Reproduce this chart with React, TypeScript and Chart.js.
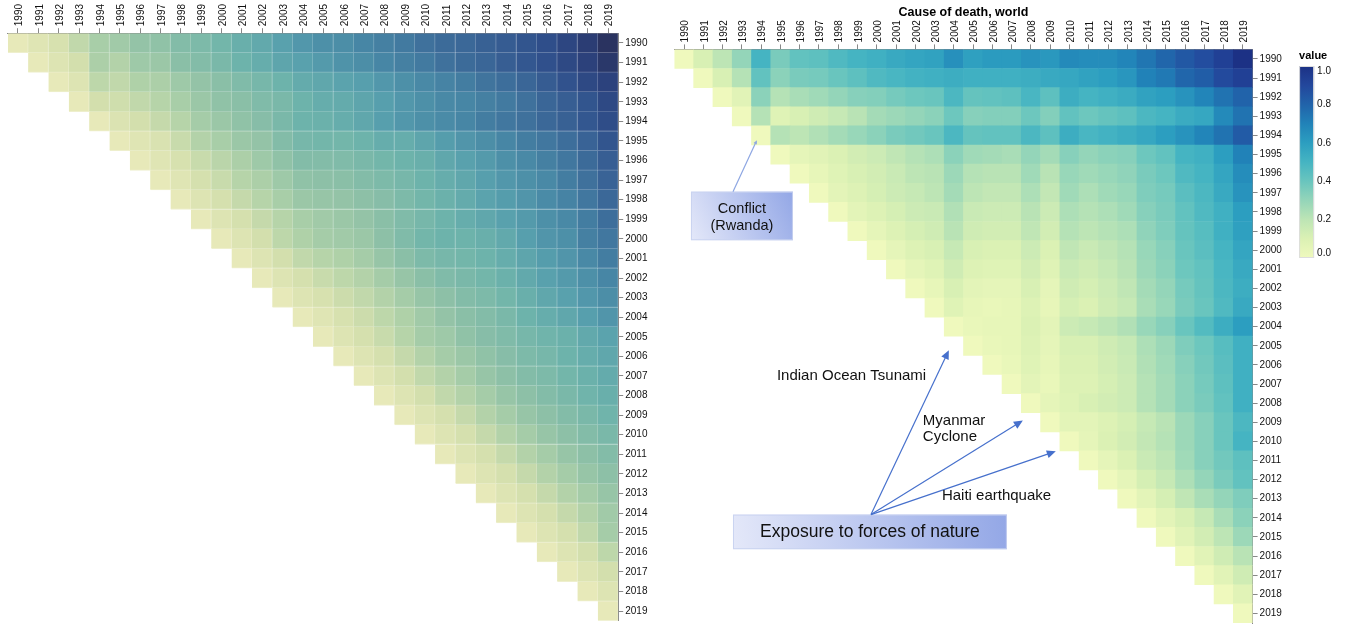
import React, { useEffect, useRef } from 'react';
import { Chart, registerables } from 'chart.js';

Chart.register(...registerables);

const FONT = '"Liberation Sans", Arial, Helvetica, sans-serif';

// ---------- categories / tick labels ----------
const YEARS = [
  '1990', '1991', '1992', '1993', '1994', '1995', '1996', '1997', '1998', '1999',
  '2000', '2001', '2002', '2003', '2004', '2005', '2006', '2007', '2008', '2009',
  '2010', '2011', '2012', '2013', '2014', '2015', '2016', '2017', '2018', '2019',
];

const RIGHT_TITLE = 'Cause of death, world';
const LEGEND_TITLE = 'value';
const LEGEND_TICKS = [0, 0.2, 0.4, 0.6, 0.8, 1.0];

// ---------- left heatmap: each row starts at its own year (diagonal) and runs to 2019 ----------
const left1990 = [0, .04, .08, .15, .22, .24, .28, .29, .33, .35, .38, .42, .45, .49, .53, .56, .57, .60, .62, .64, .67, .69, .70, .73, .75, .78, .81, .86, .92, 1.0];
const left1991 = [0, .05, .10, .21, .19, .25, .26, .31, .33, .36, .40, .43, .47, .49, .52, .55, .57, .60, .62, .64, .67, .69, .71, .74, .77, .80, .84, .89, .96];
const left1992 = [0, .05, .16, .15, .20, .21, .25, .28, .31, .34, .37, .40, .44, .46, .48, .50, .53, .56, .59, .61, .63, .66, .68, .71, .75, .79, .84, .88];
const left1993 = [0, .10, .11, .15, .18, .22, .26, .29, .31, .34, .36, .40, .43, .44, .47, .50, .53, .56, .59, .60, .62, .64, .67, .71, .74, .78, .84];
const left1994 = [0, .06, .10, .14, .18, .23, .26, .29, .32, .36, .40, .41, .43, .46, .50, .53, .56, .58, .60, .63, .65, .67, .70, .73, .77, .82];
const left1995 = [0, .04, .07, .13, .19, .22, .26, .28, .33, .37, .38, .38, .40, .43, .43, .47, .51, .54, .57, .60, .63, .65, .68, .72, .78];
const left1996 = [0, .04, .08, .13, .17, .21, .25, .29, .33, .33, .34, .36, .38, .40, .42, .46, .49, .52, .56, .59, .62, .65, .69, .74];
const left1997 = [0, .04, .09, .13, .18, .21, .25, .29, .30, .31, .33, .35, .37, .40, .43, .46, .50, .53, .56, .59, .63, .67, .72];
const left1998 = [0, .05, .09, .14, .18, .22, .26, .27, .28, .30, .32, .35, .38, .41, .44, .48, .51, .54, .58, .61, .65, .70];
const left1999 = [0, .05, .09, .14, .18, .22, .24, .26, .28, .31, .34, .37, .40, .43, .46, .49, .52, .56, .59, .63, .68];
const left2000 = [0, .05, .10, .16, .20, .23, .24, .26, .30, .34, .38, .40, .40, .42, .45, .50, .54, .56, .62, .65];
const left2001 = [0, .05, .10, .15, .18, .20, .23, .27, .31, .35, .37, .38, .40, .43, .47, .51, .54, .59, .63];
const left2002 = [0, .05, .09, .13, .16, .19, .23, .27, .31, .34, .36, .38, .41, .45, .49, .52, .56, .60];
const left2003 = [0, .05, .08, .12, .15, .19, .23, .27, .30, .33, .35, .38, .42, .46, .49, .53, .57];
const left2004 = [0, .04, .08, .12, .16, .20, .24, .28, .31, .33, .36, .40, .43, .46, .50, .54];
const left2005 = [0, .05, .09, .13, .18, .23, .25, .29, .32, .34, .37, .39, .41, .45, .48];
const left2006 = [0, .05, .09, .14, .19, .23, .26, .29, .32, .35, .37, .40, .43, .46];
const left2007 = [0, .05, .10, .15, .19, .23, .27, .30, .33, .35, .38, .41, .44];
const left2008 = [0, .05, .10, .15, .19, .23, .27, .30, .33, .36, .39, .42];
const left2009 = [0, .05, .09, .14, .19, .23, .27, .30, .33, .36, .39];
const left2010 = [0, .05, .09, .14, .19, .23, .27, .30, .33, .36];
const left2011 = [0, .05, .09, .14, .19, .23, .27, .30, .33];
const left2012 = [0, .05, .09, .14, .19, .23, .27, .30];
const left2013 = [0, .05, .09, .14, .19, .23, .27];
const left2014 = [0, .05, .09, .14, .19, .24];
const left2015 = [0, .05, .09, .15, .23];
const left2016 = [0, .05, .10, .16];
const left2017 = [0, .05, .10];
const left2018 = [0, .05];
const left2019 = [0];

const LEFT_ROWS = [
  left1990, left1991, left1992, left1993, left1994, left1995, left1996, left1997, left1998, left1999,
  left2000, left2001, left2002, left2003, left2004, left2005, left2006, left2007, left2008, left2009,
  left2010, left2011, left2012, left2013, left2014, left2015, left2016, left2017, left2018, left2019,
];

// ---------- right heatmap: "Cause of death, world" ----------
const right1990 = [0, .11, .20, .30, .50, .36, .42, .43, .47, .50, .52, .55, .57, .58, .65, .59, .61, .61, .64, .62, .67, .66, .66, .69, .74, .79, .84, .88, .93, 1.0];
const right1991 = [0, .11, .22, .42, .32, .36, .37, .40, .43, .47, .49, .51, .52, .53, .52, .52, .52, .53, .55, .56, .58, .60, .63, .70, .73, .79, .82, .89, .93];
const right1992 = [0, .07, .32, .22, .25, .27, .30, .33, .34, .37, .39, .40, .48, .41, .42, .43, .49, .43, .53, .50, .52, .54, .58, .60, .64, .69, .75, .80];
const right1993 = [0, .22, .08, .11, .14, .17, .21, .26, .28, .30, .32, .39, .33, .34, .34, .39, .34, .42, .39, .41, .43, .48, .50, .54, .56, .67, .75];
const right1994 = [0, .22, .20, .23, .26, .29, .32, .36, .38, .40, .48, .41, .42, .42, .48, .43, .53, .49, .51, .53, .56, .60, .64, .69, .75, .83];
const right1995 = [0, .05, .07, .10, .13, .15, .19, .22, .24, .32, .27, .26, .25, .30, .26, .33, .30, .32, .33, .39, .42, .50, .52, .60, .70];
const right1996 = [0, .04, .08, .11, .13, .16, .20, .21, .28, .22, .21, .21, .27, .21, .29, .27, .29, .31, .36, .39, .47, .50, .57, .66];
const right1997 = [0, .06, .09, .12, .15, .17, .20, .26, .20, .18, .18, .24, .18, .27, .24, .27, .29, .35, .37, .44, .48, .55, .64];
const right1998 = [0, .06, .09, .12, .15, .16, .23, .16, .15, .15, .21, .15, .24, .22, .24, .27, .33, .36, .42, .47, .52, .60];
const right1999 = [0, .05, .09, .12, .14, .21, .14, .13, .13, .19, .13, .22, .20, .22, .24, .31, .35, .41, .45, .52, .59];
const right2000 = [0, .05, .09, .11, .17, .11, .10, .10, .15, .10, .19, .16, .19, .22, .29, .33, .40, .44, .50, .57];
const right2001 = [0, .05, .08, .14, .09, .08, .08, .13, .08, .16, .14, .17, .21, .28, .32, .39, .42, .49, .55];
const right2002 = [0, .04, .11, .06, .05, .05, .11, .05, .14, .12, .15, .19, .26, .30, .37, .41, .48, .53];
const right2003 = [0, .08, .04, .03, .04, .09, .04, .12, .10, .14, .17, .25, .29, .36, .40, .47, .55];
const right2004 = [0, .03, .04, .04, .10, .06, .15, .17, .20, .23, .29, .33, .40, .46, .53, .60];
const right2005 = [0, .03, .04, .09, .05, .11, .11, .14, .17, .24, .28, .35, .39, .45, .52];
const right2006 = [0, .03, .08, .04, .10, .10, .13, .16, .23, .27, .33, .38, .44, .52];
const right2007 = [0, .06, .03, .09, .09, .12, .15, .22, .26, .32, .37, .43, .52];
const right2008 = [0, .05, .08, .11, .13, .15, .22, .26, .32, .36, .42, .52];
const right2009 = [0, .06, .06, .09, .12, .17, .21, .28, .33, .40, .48];
const right2010 = [0, .05, .10, .13, .18, .22, .28, .33, .40, .50];
const right2011 = [0, .05, .10, .16, .20, .27, .33, .38, .43];
const right2012 = [0, .05, .12, .17, .24, .30, .36, .42];
const right2013 = [0, .06, .12, .19, .25, .30, .35];
const right2014 = [0, .06, .11, .17, .25, .32];
const right2015 = [0, .07, .13, .20, .28];
const right2016 = [0, .07, .14, .21];
const right2017 = [0, .07, .14];
const right2018 = [0, .07];
const right2019 = [0];

const RIGHT_ROWS = [
  right1990, right1991, right1992, right1993, right1994, right1995, right1996, right1997, right1998, right1999,
  right2000, right2001, right2002, right2003, right2004, right2005, right2006, right2007, right2008, right2009,
  right2010, right2011, right2012, right2013, right2014, right2015, right2016, right2017, right2018, right2019,
];

// ---------- colour schemes ----------
const LEFT_STOPS = ['#e7e9b9', '#d3dfad', '#afd1a8', '#8dc0a7', '#6db3ab', '#579fad', '#4786a5', '#3b6898', '#30508c', '#2b3f79', '#2a3360'];
const RIGHT_STOPS = ['#eff9bd', '#dbf1b4', '#bde5b5', '#94d5b9', '#69c5be', '#45b4c2', '#2c9ec0', '#2182b8', '#2163aa', '#23479c', '#1c3185'];

function hexToRgb(h: string): number[] {
  const n = parseInt(h.slice(1), 16);
  return [(n >> 16) & 255, (n >> 8) & 255, n & 255];
}
function interpRgb(stops: string[], t: number): number[] {
  const tt = Math.max(0, Math.min(1, t));
  const p = tt * (stops.length - 1);
  const i = Math.min(Math.floor(p), stops.length - 2);
  const f = p - i;
  const a = hexToRgb(stops[i]);
  const b = hexToRgb(stops[i + 1]);
  return [0, 1, 2].map((k) => Math.round(a[k] + (b[k] - a[k]) * f));
}
function rgbStr(c: number[]): string {
  return `rgb(${c[0]},${c[1]},${c[2]})`;
}

// ---------- annotations for the right chart (in column / row units) ----------
const BOXES = [
  { c0: 0.36, c1: 5.65, r0: 6.94, r1: 9.48, lines: ['Conflict', '(Rwanda)'], size: 14.5, lineGap: 0.89 },
  { c0: 2.54, c1: 16.75, r0: 23.83, r1: 25.64, lines: ['Exposure to forces of nature'], size: 17.5, lineGap: 0 },
];
const ARROWS = [
  { from: [2.54, 6.94], to: [3.78, 4.25], color: '#8da6e2', head: 4 },
  { from: [9.70, 23.83], to: [13.74, 15.23], color: '#4670cc', head: 9 },
  { from: [9.70, 23.83], to: [17.58, 18.91], color: '#4670cc', head: 9 },
  { from: [9.70, 23.83], to: [19.29, 20.52], color: '#4670cc', head: 9 },
];
const LABELS = [
  { text: 'Indian Ocean Tsunami', c: 4.82, r: 16.56 },
  { text: 'Myanmar', c: 12.39, r: 18.91 },
  { text: 'Cyclone', c: 12.39, r: 19.79 },
  { text: 'Haiti earthquake', c: 13.38, r: 22.85 },
];

function buildData(rows: number[][]) {
  const pts: { x: string; y: number[]; v: number }[] = [];
  rows.forEach((row, r) => {
    row.forEach((v, k) => {
      pts.push({ x: YEARS[r + k], y: [r - 0.5, r + 0.5], v });
    });
  });
  return pts;
}

function heatmapConfig(rows: number[][], stops: string[], padding: any, xHeight: number, yWidth: number, gridLines: boolean, plugins: any[]) {
  return {
    type: 'bar',
    data: {
      labels: YEARS,
      datasets: [
        {
          data: buildData(rows),
          backgroundColor: (ctx: any) => (ctx.raw ? rgbStr(interpRgb(stops, ctx.raw.v)) : 'transparent'),
          borderColor: (ctx: any) => {
            if (!ctx.raw) return 'transparent';
            const c = interpRgb(stops, ctx.raw.v);
            return rgbStr(c.map((k) => Math.round(k + (255 - k) * 0.28)));
          },
          borderWidth: gridLines ? { top: 0, left: 0, right: 1, bottom: 1 } : 0,
          borderSkipped: false,
          barPercentage: 1,
          categoryPercentage: 1,
        },
      ],
    },
    options: {
      responsive: false,
      animation: false,
      events: [],
      layout: { padding },
      plugins: { legend: { display: false }, tooltip: { enabled: false }, title: { display: false } },
      scales: {
        x: {
          type: 'category',
          position: 'top',
          offset: true,
          grid: { display: true, drawOnChartArea: false, drawTicks: true, tickLength: 5, tickColor: '#888', offset: false },
          border: { display: true, color: '#888' },
          ticks: { autoSkip: false, minRotation: 90, maxRotation: 90, padding: 2, labelOffset: 13.5, color: '#111', font: { family: FONT, size: 10 } },
          afterFit: (s: any) => { s.height = xHeight; },
        },
        y: {
          type: 'linear',
          position: 'right',
          min: -0.5,
          max: 29.5,
          reverse: true,
          afterBuildTicks: (s: any) => { s.ticks = YEARS.map((_, i) => ({ value: i })); },
          grid: { display: true, drawOnChartArea: false, drawTicks: true, tickLength: 5, tickColor: '#888' },
          border: { display: true, color: '#888' },
          ticks: { autoSkip: false, padding: 2, color: '#111', font: { family: FONT, size: 10 }, callback: (v: any) => YEARS[v] },
          afterFit: (s: any) => { s.width = yWidth; },
        },
      },
    },
    plugins,
  } as any;
}

const rightDecorations = {
  id: 'rightDecorations',
  afterDraw(chart: any) {
    const { ctx, chartArea: a, scales } = chart;
    const xs = scales.x;
    const ys = scales.y;
    const P = (c: number, r: number) => [xs.getPixelForValue(c), ys.getPixelForValue(r)];
    ctx.save();

    // title
    ctx.fillStyle = '#000';
    ctx.font = `bold 12.5px ${FONT}`;
    ctx.textAlign = 'center';
    ctx.textBaseline = 'middle';
    ctx.fillText(RIGHT_TITLE, (a.left + a.right) / 2, a.top - 36.5);

    // colour legend
    const lx = a.right + 46.5;
    const ly0 = a.top + 16.6;
    const ly1 = a.top + 208.6;
    ctx.font = `bold 11px ${FONT}`;
    ctx.textAlign = 'left';
    ctx.fillText(LEGEND_TITLE, lx, a.top + 6.6);
    const grad = ctx.createLinearGradient(0, ly1, 0, ly0);
    RIGHT_STOPS.forEach((c, i) => grad.addColorStop(i / (RIGHT_STOPS.length - 1), c));
    ctx.fillStyle = grad;
    ctx.fillRect(lx, ly0, 15, ly1 - ly0);
    ctx.strokeStyle = '#dddddd';
    ctx.lineWidth = 1;
    ctx.strokeRect(lx + 0.5, ly0 + 0.5, 14, ly1 - ly0 - 1);
    ctx.fillStyle = '#111';
    ctx.font = `10px ${FONT}`;
    LEGEND_TICKS.forEach((t) => {
      const yy = ly1 - t * (ly1 - ly0);
      ctx.textBaseline = t === 1 ? 'top' : t === 0 ? 'bottom' : 'middle';
      ctx.fillText(t.toFixed(1), lx + 18, yy);
    });

    // annotation boxes
    BOXES.forEach((b) => {
      const [x0, y0] = P(b.c0, b.r0);
      const [x1, y1] = P(b.c1, b.r1);
      const g = ctx.createLinearGradient(x0, y1, x1, y0);
      g.addColorStop(0, '#e4e8f9');
      g.addColorStop(1, '#93a7e6');
      ctx.fillStyle = g;
      ctx.fillRect(x0, y0, x1 - x0, y1 - y0);
      ctx.strokeStyle = 'rgba(200,210,240,0.9)';
      ctx.lineWidth = 1;
      ctx.strokeRect(x0 + 0.5, y0 + 0.5, x1 - x0 - 1, y1 - y0 - 1);
      ctx.fillStyle = '#111';
      ctx.font = `${b.size}px ${FONT}`;
      ctx.textAlign = 'center';
      ctx.textBaseline = 'middle';
      const cx = (x0 + x1) / 2;
      const cy = (y0 + y1) / 2;
      const n = b.lines.length;
      b.lines.forEach((line, i) => {
        const off = (i - (n - 1) / 2) * b.lineGap;
        const [, yy] = P(0, (b.r0 + b.r1) / 2 + off);
        ctx.fillText(line, cx, n === 1 ? cy : yy + 1.5);
      });
    });

    // arrows
    ARROWS.forEach((ar) => {
      const [x0, y0] = P(ar.from[0], ar.from[1]);
      const [x1, y1] = P(ar.to[0], ar.to[1]);
      const ang = Math.atan2(y1 - y0, x1 - x0);
      ctx.strokeStyle = ar.color;
      ctx.fillStyle = ar.color;
      ctx.lineWidth = 1.2;
      ctx.beginPath();
      ctx.moveTo(x0, y0);
      ctx.lineTo(x1 - Math.cos(ang) * ar.head * 0.8, y1 - Math.sin(ang) * ar.head * 0.8);
      ctx.stroke();
      const h = ar.head;
      const w = h * 0.45;
      ctx.beginPath();
      ctx.moveTo(x1, y1);
      ctx.lineTo(x1 - Math.cos(ang) * h - Math.sin(ang) * w, y1 - Math.sin(ang) * h + Math.cos(ang) * w);
      ctx.lineTo(x1 - Math.cos(ang) * h + Math.sin(ang) * w, y1 - Math.sin(ang) * h - Math.cos(ang) * w);
      ctx.closePath();
      ctx.fill();
    });

    // free labels
    ctx.fillStyle = '#111';
    ctx.font = `15px ${FONT}`;
    ctx.textAlign = 'left';
    ctx.textBaseline = 'middle';
    LABELS.forEach((l) => {
      const [x, y] = P(l.c, l.r);
      ctx.fillText(l.text, x, y);
    });

    ctx.restore();
  },
};

const LEFT_W = 672;
const RIGHT_X = 660;
const RIGHT_W = 691;
const H = 631;

export default function App() {
  const leftRef = useRef<HTMLCanvasElement>(null);
  const rightRef = useRef<HTMLCanvasElement>(null);

  useEffect(() => {
    const left = new Chart(
      leftRef.current as HTMLCanvasElement,
      heatmapConfig(LEFT_ROWS, LEFT_STOPS, { left: 7.8, top: 0, right: LEFT_W - 618.2 - 40, bottom: H - 620.8 }, 33.2, 40, true, [])
    );
    const right = new Chart(
      rightRef.current as HTMLCanvasElement,
      heatmapConfig(RIGHT_ROWS, RIGHT_STOPS, { left: 674.4 - RIGHT_X, top: 0, right: RIGHT_W - (1252.6 - RIGHT_X) - 40, bottom: H - 628.6 }, 49.4, 40, false, [rightDecorations])
    );
    return () => {
      left.destroy();
      right.destroy();
    };
  }, []);

  return (
    <div style={{ position: 'fixed', left: 0, top: 0, width: 1351, height: H, background: '#fff', overflow: 'hidden' }}>
      <canvas ref={leftRef} width={LEFT_W} height={H} style={{ position: 'absolute', left: 0, top: 0, display: 'block' }} />
      <canvas ref={rightRef} width={RIGHT_W} height={H} style={{ position: 'absolute', left: RIGHT_X, top: 0, display: 'block' }} />
    </div>
  );
}
